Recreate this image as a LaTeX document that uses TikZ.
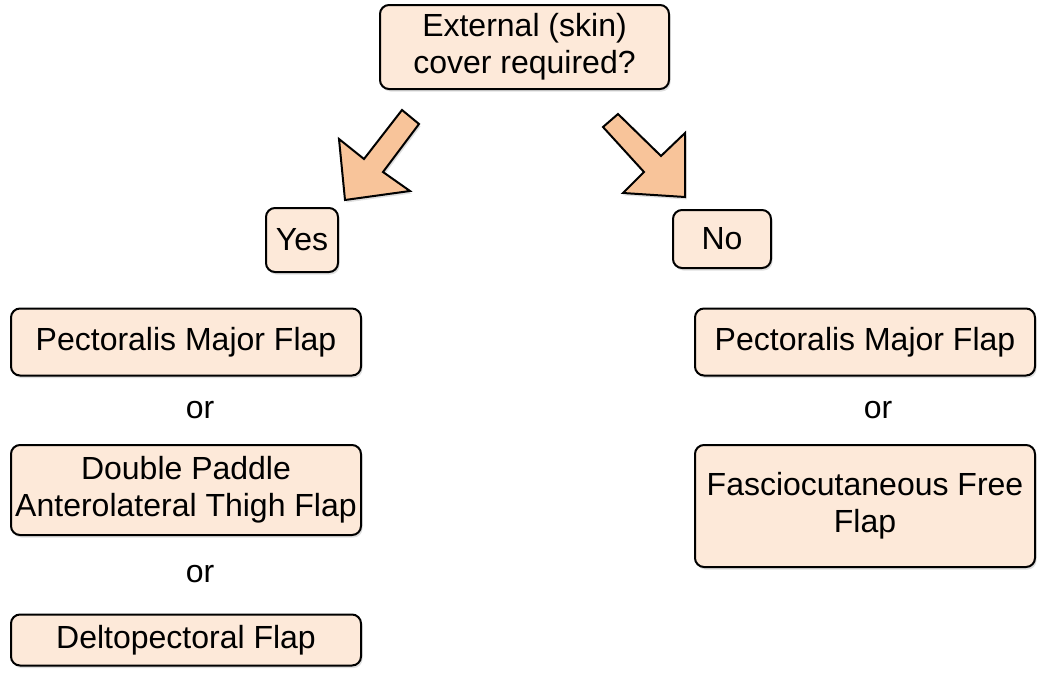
\documentclass[tikz,border=0pt]{standalone}
\usepackage{fontspec}
\setmainfont{Liberation Sans}
\usetikzlibrary{shadows}
\definecolor{boxfill}{HTML}{FDE9D9}
\definecolor{arrowfill}{HTML}{F8C49A}
\begin{document}
\begin{tikzpicture}[x=1pt,y=-1pt,
  box/.style={draw=black, line width=2pt, rounded corners=9pt, fill=boxfill,
    align=center, font=\fontsize{32}{37}\selectfont, inner sep=0pt,
    drop shadow={shadow xshift=1.5pt, shadow yshift=-2.5pt, fill=black!25}},
  ortext/.style={font=\fontsize{32}{37}\selectfont, inner sep=0pt},
  blockarrow/.style={draw=black, line width=2pt, fill=arrowfill, line join=miter,
    drop shadow={shadow xshift=1.5pt, shadow yshift=-2.5pt, fill=black!25}}]
\useasboundingbox (0,0) rectangle (1038,672);
% question
\node[box, minimum width=289pt, minimum height=84pt] (q) at (524.5,47) {External (skin)\\cover required?};
% answers
\node[box, minimum width=72pt, minimum height=64pt] (yes) at (302,240) {Yes};
\node[box, minimum width=98pt, minimum height=58pt] (no) at (722,239) {No};
% left column
\node[box, minimum width=350pt, minimum height=67pt] (lpm) at (186,342) {Pectoralis Major Flap};
\node[ortext] (lor1) at (200,410) {or};
\node[box, minimum width=350pt, minimum height=90pt] (alt) at (186,490) {Double Paddle\\Anterolateral Thigh Flap};
\node[ortext] (lor2) at (200,574) {or};
\node[box, minimum width=350pt, minimum height=51pt] (dp) at (186,640) {Deltopectoral Flap};
% right column
\node[box, minimum width=340pt, minimum height=67pt] (rpm) at (865,342) {Pectoralis Major Flap};
\node[ortext] (ror) at (878,410) {or};
\node[box, minimum width=340pt, minimum height=122pt] (ff) at (865,506) {Fasciocutaneous Free\\Flap};
% block arrows
\draw[blockarrow] (402,110) -- (419,124) -- (383,172) -- (410,191) -- (345,200) -- (339,139) -- (364,159) -- cycle;
\draw[blockarrow] (618,114) -- (661,156) -- (685,133) -- (685,197) -- (623,193) -- (644,172) -- (603,127) -- cycle;
\end{tikzpicture}
\end{document}
